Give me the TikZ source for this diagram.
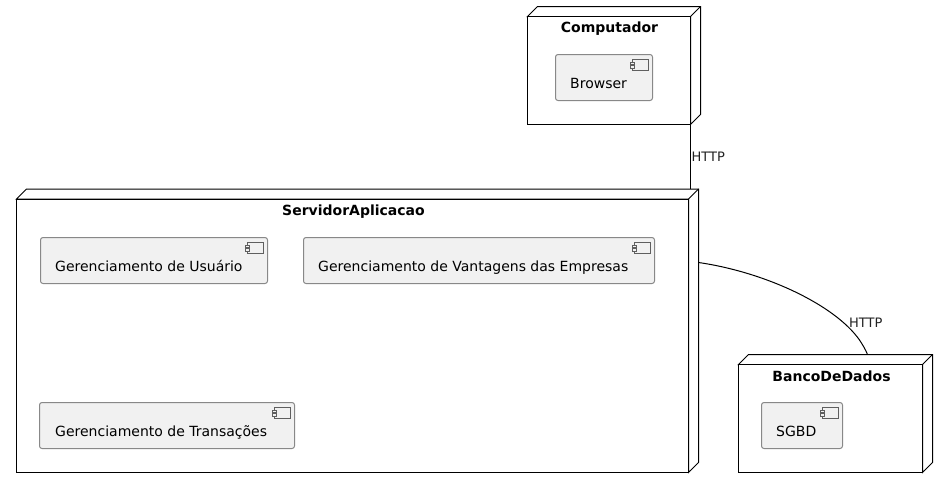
\documentclass[tikz,border=0pt]{standalone}
\usepackage{fontspec}
\setmainfont{DejaVu Sans}
\definecolor{compfill}{HTML}{F1F1F1}
\definecolor{compline}{HTML}{888888}
\definecolor{labelink}{HTML}{222222}
\tikzset{
  x=1pt,y=-1pt,
  nodebox/.style={draw=black,line width=1pt,fill=white,rectangle,inner sep=0pt,outer sep=0pt},
  nodeedge/.style={draw=black,line width=1pt},
  nodetitle/.style={font=\bfseries\fontsize{14}{16}\selectfont,inner sep=0pt,anchor=base,text=black},
  compbox/.style={draw=compline,line width=1pt,fill=compfill,rounded corners=2.5pt,inner sep=0pt,outer sep=0pt},
  comptext/.style={font=\fontsize{14}{16}\selectfont,inner sep=0pt,anchor=base west,text=black},
  complink/.style={draw=black,line width=1pt},
  linklabel/.style={font=\fontsize{13}{15}\selectfont,inner sep=0pt,anchor=base west,text=labelink},
  iconpart/.style={draw=compline!70!black,line width=0.8pt,fill=compfill},
}
% #1 name, #2 left, #3 top, #4 right, #5 bottom of the front face
\newcommand{\deploynode}[5]{%
  \path[nodeedge,fill=white] (#2,#3) -- (#2+10,#3-10) -- (#4+10,#3-10) -- (#4+10,#5-10) -- (#4,#5) -- (#4,#3) -- cycle;
  \node[nodebox,minimum width=#4-#2,minimum height=#5-#3,anchor=north west] (#1) at (#2,#3) {};
  \draw[nodeedge] (#1.north east) -- ++(10,-10);
  \coordinate (#1top) at ($(#1.north west)+(10,-10)$);
}
% #1 name, #2 left, #3 top, #4 right, #5 bottom, #6 text x, #7 text
\newcommand{\component}[7]{%
  \node[compbox,minimum width=#4-#2,minimum height=#5-#3,anchor=north west] (#1) at (#2,#3) {};
  \node[comptext] (#1label) at (#6,#3+33.5) {#7};
  \path[iconpart] (#4-20.5,#3+5) rectangle (#4-4.5,#3+15.5);
  \path[iconpart] (#4-22.5,#3+7.5) rectangle (#4-18,#3+10);
  \path[iconpart] (#4-22.5,#3+11) rectangle (#4-18,#3+13.5);
}
\usetikzlibrary{calc}
\begin{document}
\begin{tikzpicture}
\useasboundingbox (0,0) rectangle (948,488);
\fill[white] (0,0) rectangle (948,488);

\deploynode{comp}{527.5}{16.5}{690.5}{124.5}
\deploynode{serv}{16.5}{199}{688.5}{472.5}
\deploynode{bank}{738.5}{364.5}{922.5}{472.5}

\node[nodetitle] (comptitle) at (609.5,32) {Computador};
\node[nodetitle] (servtitle) at (353.5,215) {ServidorAplicacao};
\node[nodetitle] (banktitle) at (831.5,381) {BancoDeDados};

\component{browser}{555.5}{54.5}{652.5}{100.5}{570}{Browser}
\component{usuario}{40.5}{237.5}{267.5}{283.5}{55}{Gerenciamento de Usuário}
\component{vantagens}{303.5}{237.5}{654.5}{283.5}{318}{Gerenciamento de Vantagens das Empresas}
\component{transacoes}{39.5}{402.5}{294.5}{448.5}{55}{Gerenciamento de Transações}
\component{sgbd}{761.5}{402.5}{842.5}{448.5}{776}{SGBD}

% connectors
\coordinate (servedgetop) at (comp.south east |- servtop);
\coordinate (servside) at ($(serv.north east)+(10,63.5)$);
\coordinate (banktopfree) at ($(banktop)+(119,0)$);
\draw[complink] (comp.south east) -- (servedgetop);
\draw[complink] (servside) .. controls ($(servside)+(66,9.5)$) and ($(servside)+(136,42)$) .. ($(servside)+(161,77.5)$) .. controls ($(servside)+(164,82)$) and ($(servside)+(167,87)$) .. (banktopfree);

\node[linklabel] (httpa) at (691.5,161.5) {HTTP};
\node[linklabel] (httpb) at (849,327) {HTTP};
\end{tikzpicture}
\end{document}
